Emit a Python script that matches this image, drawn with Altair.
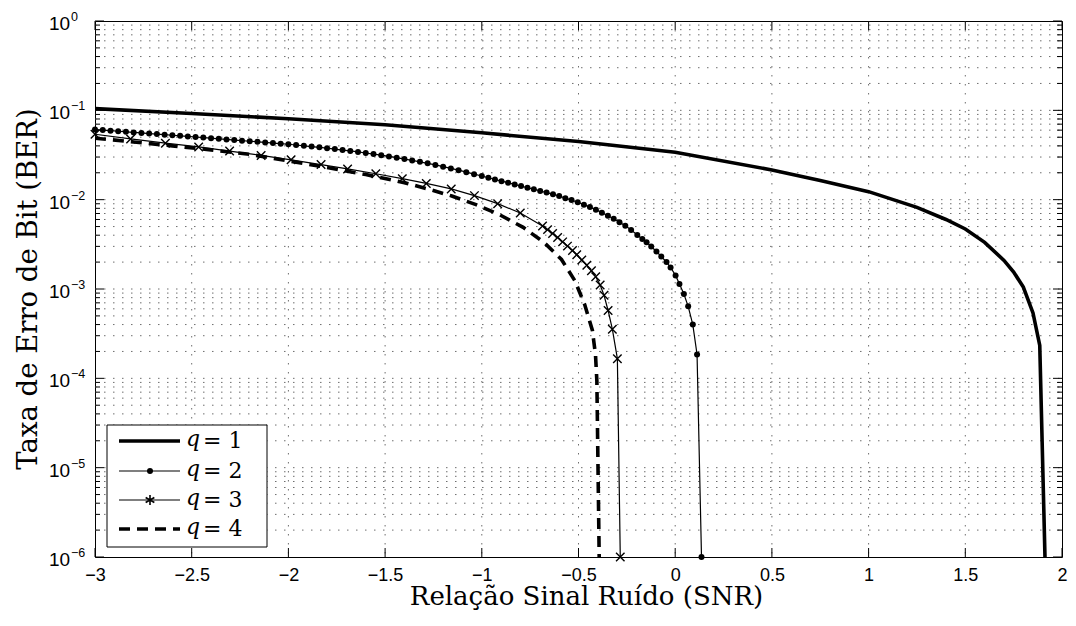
import altair as alt
import pandas as pd

# ---------------- data ----------------
q1_x = [-3.0, -2.5, -2.0, -1.5, -1.0, -0.5, 0.0, 0.5, 0.75, 1.0, 1.25, 1.4, 1.5, 1.6, 1.7, 1.75, 1.8, 1.85, 1.885, 1.912]
q1_y = [0.1045, 0.0920, 0.0805, 0.0689, 0.0560, 0.0447, 0.0339, 0.0215, 0.0164, 0.0123, 0.0082, 0.0060, 0.0047, 0.00333, 0.00209,
        0.00155, 0.00105, 0.00054, 0.000234, 1e-6]

q2_x = [-3.00, -2.96, -2.92, -2.88, -2.84, -2.80, -2.76, -2.72, -2.68, -2.64, -2.60, -2.56, -2.52, -2.48, -2.44, -2.40, -2.36,
        -2.32, -2.28, -2.24, -2.20, -2.16, -2.12, -2.08, -2.04, -2.00, -1.96, -1.92, -1.88, -1.84, -1.80, -1.76, -1.72, -1.68,
        -1.64, -1.60, -1.56, -1.52, -1.48, -1.44, -1.40, -1.36, -1.32, -1.28, -1.24, -1.20, -1.16, -1.12, -1.08, -1.04, -1.00,
        -0.966, -0.932, -0.898, -0.864, -0.830, -0.797, -0.764, -0.731, -0.698, -0.665, -0.632, -0.600, -0.568, -0.536, -0.504,
        -0.472, -0.441, -0.410, -0.379, -0.348, -0.318, -0.288, -0.258, -0.228, -0.196, -0.170, -0.148, -0.124, -0.097, -0.072,
        -0.045, -0.024, 0.002, 0.022, 0.045, 0.067, 0.091, 0.113, 0.136]
q2_y = [0.0610, 0.0601, 0.0592, 0.0583, 0.0575, 0.0566, 0.0558, 0.0550, 0.0542, 0.0534, 0.0526, 0.0518, 0.0511, 0.0503, 0.0495,
        0.0488, 0.0480, 0.0473, 0.0465, 0.0458, 0.0451, 0.0444, 0.0437, 0.0430, 0.0423, 0.0417, 0.0409, 0.0401, 0.0393, 0.0385,
        0.0377, 0.0368, 0.0359, 0.0351, 0.0342, 0.0333, 0.0324, 0.0315, 0.0305, 0.0295, 0.0285, 0.0275, 0.0265, 0.0255, 0.0245,
        0.0234, 0.0224, 0.0214, 0.0203, 0.0193, 0.0184,
        0.0176, 0.0168, 0.0161, 0.0155, 0.0148, 0.0142, 0.0136, 0.0131, 0.0125, 0.0120, 0.0115, 0.0110, 0.0104, 0.00989, 0.00935,
        0.00879, 0.00826, 0.00773, 0.00716, 0.00662, 0.00611, 0.00560, 0.00509, 0.00459, 0.00403, 0.00363, 0.00333, 0.00299,
        0.00263, 0.00231, 0.00200, 0.00174, 0.00142, 0.00114, 0.00088, 0.00064, 0.00040, 0.000185, 1e-6]

q3_x = [-3.0, -2.816, -2.636, -2.464, -2.304, -2.141, -1.986, -1.831, -1.694, -1.548, -1.411, -1.287, -1.158, -1.038, -0.918,
        -0.801, -0.686, -0.660, -0.634, -0.608, -0.582, -0.557, -0.531, -0.509, -0.483, -0.457, -0.433, -0.411, -0.388, -0.368,
        -0.347, -0.325, -0.299, -0.284]
q3_y = [0.0540, 0.0479, 0.0429, 0.0389, 0.0350, 0.0313, 0.0279, 0.0247, 0.0221, 0.0195, 0.0172, 0.0152, 0.0132, 0.0111, 0.00902,
        0.00708, 0.00507, 0.00462, 0.00419, 0.00377, 0.00337, 0.00302, 0.00269, 0.00242, 0.00211, 0.00184, 0.00160, 0.00137,
        0.00111, 0.00085, 0.000575, 0.000355, 0.000166, 1e-6]

q4_x = [-3.0, -2.8, -2.6, -2.4, -2.2, -2.0, -1.8, -1.6, -1.4, -1.27, -1.155, -1.03, -0.906, -0.786, -0.679, -0.588, -0.519,
        -0.468, -0.428, -0.412, -0.405, -0.393]
q4_y = [0.0488, 0.0443, 0.0400, 0.0361, 0.0322, 0.0272, 0.0229, 0.0191, 0.0155, 0.0130, 0.0110, 0.0088, 0.00675, 0.0049,
        0.00333, 0.00214, 0.00124, 0.00067, 0.000344, 0.000182, 9.3e-5, 1e-6]

x_ticks = [-3, -2.5, -2, -1.5, -1, -0.5, 0, 0.5, 1, 1.5, 2]
y_ticks = [1, 1e-1, 1e-2, 1e-3, 1e-4, 1e-5, 1e-6]
y_exps = ["0", "\u22121", "\u22122", "\u22123", "\u22124", "\u22125", "\u22126"]
y_minor = [m * 10.0 ** e for e in range(-6, 0) for m in range(2, 10)]
legend_labels = ["= 1", "= 2", "= 3", "= 4"]

x_title = "Relação Sinal Ruído (SNR)"
y_title = "Taxa de Erro de Bit (BER)"

# ---------------- chart ----------------
W, H = 967, 536
xs = alt.Scale(domain=[-3, 2], nice=False, zero=False)
ys = alt.Scale(type="log", domain=[1e-6, 1], nice=False)
xaxis = alt.Axis(values=x_ticks, format="~g", grid=False, ticks=False, domain=False,
                 labelFont="Liberation Sans", labelFontSize=18, labelColor="black",
                 labelPadding=9, labelFlush=False, labelOverlap=False)


def X():
    return alt.X("x:Q", scale=xs, axis=xaxis, title="")


def Y():
    return alt.Y("y:Q", scale=ys, axis=None)


one = pd.DataFrame({"a": [0]})
GRID = dict(color="#6e6e6e", strokeWidth=1, strokeDash=[1.5, 7.5])

grid_y = alt.Chart(pd.DataFrame({"y": y_minor + y_ticks[1:-1]})).mark_rule(**GRID).encode(
    y=Y(), x=alt.value(0), x2=alt.value(W))
grid_x = alt.Chart(pd.DataFrame({"x": x_ticks[1:-1]})).mark_rule(**GRID).encode(
    x=X(), y=alt.value(0), y2=alt.value(H))

tk = dict(color="black", strokeWidth=1)
ymaj = pd.DataFrame({"y": y_ticks})
ymin = pd.DataFrame({"y": y_minor})
xmaj = pd.DataFrame({"x": x_ticks})
ticks = [
    alt.Chart(ymaj).mark_rule(**tk).encode(y=Y(), x=alt.value(0), x2=alt.value(9)),
    alt.Chart(ymaj).mark_rule(**tk).encode(y=Y(), x=alt.value(W - 9), x2=alt.value(W)),
    alt.Chart(ymin).mark_rule(**tk).encode(y=Y(), x=alt.value(0), x2=alt.value(5)),
    alt.Chart(ymin).mark_rule(**tk).encode(y=Y(), x=alt.value(W - 5), x2=alt.value(W)),
    alt.Chart(xmaj).mark_rule(**tk).encode(x=X(), y=alt.value(H - 9), y2=alt.value(H)),
    alt.Chart(xmaj).mark_rule(**tk).encode(x=X(), y=alt.value(0), y2=alt.value(9)),
]

d1 = pd.DataFrame({"x": q1_x, "y": q1_y})
d2 = pd.DataFrame({"x": q2_x, "y": q2_y})
d3 = pd.DataFrame({"x": q3_x, "y": q3_y})
d4 = pd.DataFrame({"x": q4_x, "y": q4_y})

CROSS = "M-1,-1L1,1M-1,1L1,-1"
STAR = "M0,-1L0,1M-0.87,-0.5L0.87,0.5M-0.87,0.5L0.87,-0.5"

l1 = alt.Chart(d1).mark_line(color="black", strokeWidth=3.6, clip=True).encode(x=X(), y=Y())
l4 = alt.Chart(d4).mark_line(color="black", strokeWidth=3.6, strokeDash=[11, 7], clip=True).encode(x=X(), y=Y())
l3 = alt.Chart(d3).mark_line(color="black", strokeWidth=1.2, clip=True).encode(x=X(), y=Y())
p3 = alt.Chart(d3).mark_point(shape=CROSS, filled=False, size=72, strokeWidth=1.4, color="black", opacity=1).encode(x=X(), y=Y())
l2 = alt.Chart(d2).mark_line(color="black", strokeWidth=1.2, clip=True).encode(x=X(), y=Y())
p2 = alt.Chart(d2).mark_point(shape="circle", filled=True, size=36, color="black", opacity=1).encode(x=X(), y=Y())

ylab_df = pd.DataFrame({"y": y_ticks, "e": y_exps})
ylab10 = alt.Chart(ylab_df).mark_text(align="left", baseline="middle", font="Liberation Sans", fontSize=19,
                                      color="black", dy=3).encode(y=Y(), x=alt.value(-46), text=alt.value("10"))
ylabE = alt.Chart(ylab_df).mark_text(align="left", baseline="middle", font="Liberation Sans", fontSize=12.5,
                                     color="black", dy=-4).encode(y=Y(), x=alt.value(-24), text="e:N")

xt = alt.Chart(one).mark_text(align="center", baseline="alphabetic", font="DejaVu Serif", fontSize=26,
                              color="black").encode(x=alt.value(W / 2 + 8), y=alt.value(H + 48), text=alt.value(x_title))
yt = alt.Chart(one).mark_text(align="center", baseline="middle", font="DejaVu Serif", fontSize=27.5, angle=270,
                              color="black").encode(x=alt.value(-66), y=alt.value(H / 2), text=alt.value(y_title))

# legend
leg = [alt.Chart(one).mark_rect(fill="white", stroke="black", strokeWidth=1).encode(
    x=alt.value(12), x2=alt.value(172), y=alt.value(404), y2=alt.value(526))]
ly = [420, 450, 479, 508]
styles = [dict(strokeWidth=3.6), dict(strokeWidth=1.2), dict(strokeWidth=1.2), dict(strokeWidth=3.6, strokeDash=[11, 7])]
for yy, st, lab in zip(ly, styles, legend_labels):
    leg.append(alt.Chart(one).mark_rule(color="black", **st).encode(x=alt.value(24), x2=alt.value(85), y=alt.value(yy)))
    leg.append(alt.Chart(one).mark_text(align="left", baseline="alphabetic", font="DejaVu Serif", fontSize=22,
                                        fontStyle="italic", color="black").encode(
        x=alt.value(91), y=alt.value(yy + 5), text=alt.value("q")))
    leg.append(alt.Chart(one).mark_text(align="left", baseline="alphabetic", font="DejaVu Serif", fontSize=22,
                                        color="black").encode(
        x=alt.value(108), y=alt.value(yy + 7), text=alt.value(lab)))
leg.append(alt.Chart(one).mark_point(shape="circle", filled=True, size=36, color="black", opacity=1).encode(
    x=alt.value(55), y=alt.value(ly[1])))
leg.append(alt.Chart(one).mark_point(shape=STAR, filled=False, size=100, strokeWidth=1.6, color="black", opacity=1).encode(
    x=alt.value(55), y=alt.value(ly[2])))

chart = alt.layer(
    grid_y, grid_x, *ticks, l1, l4, l3, p3, l2, p2, ylab10, ylabE, xt, yt, *leg
).properties(
    width=W, height=H,
    autosize=alt.AutoSizeParams(type="none"),
    padding={"left": 87, "top": 13, "right": 6, "bottom": 54},
    background="white",
).configure_view(stroke="black", strokeWidth=1)

chart.save("out.html", embed_options={"renderer": "svg", "actions": False})
